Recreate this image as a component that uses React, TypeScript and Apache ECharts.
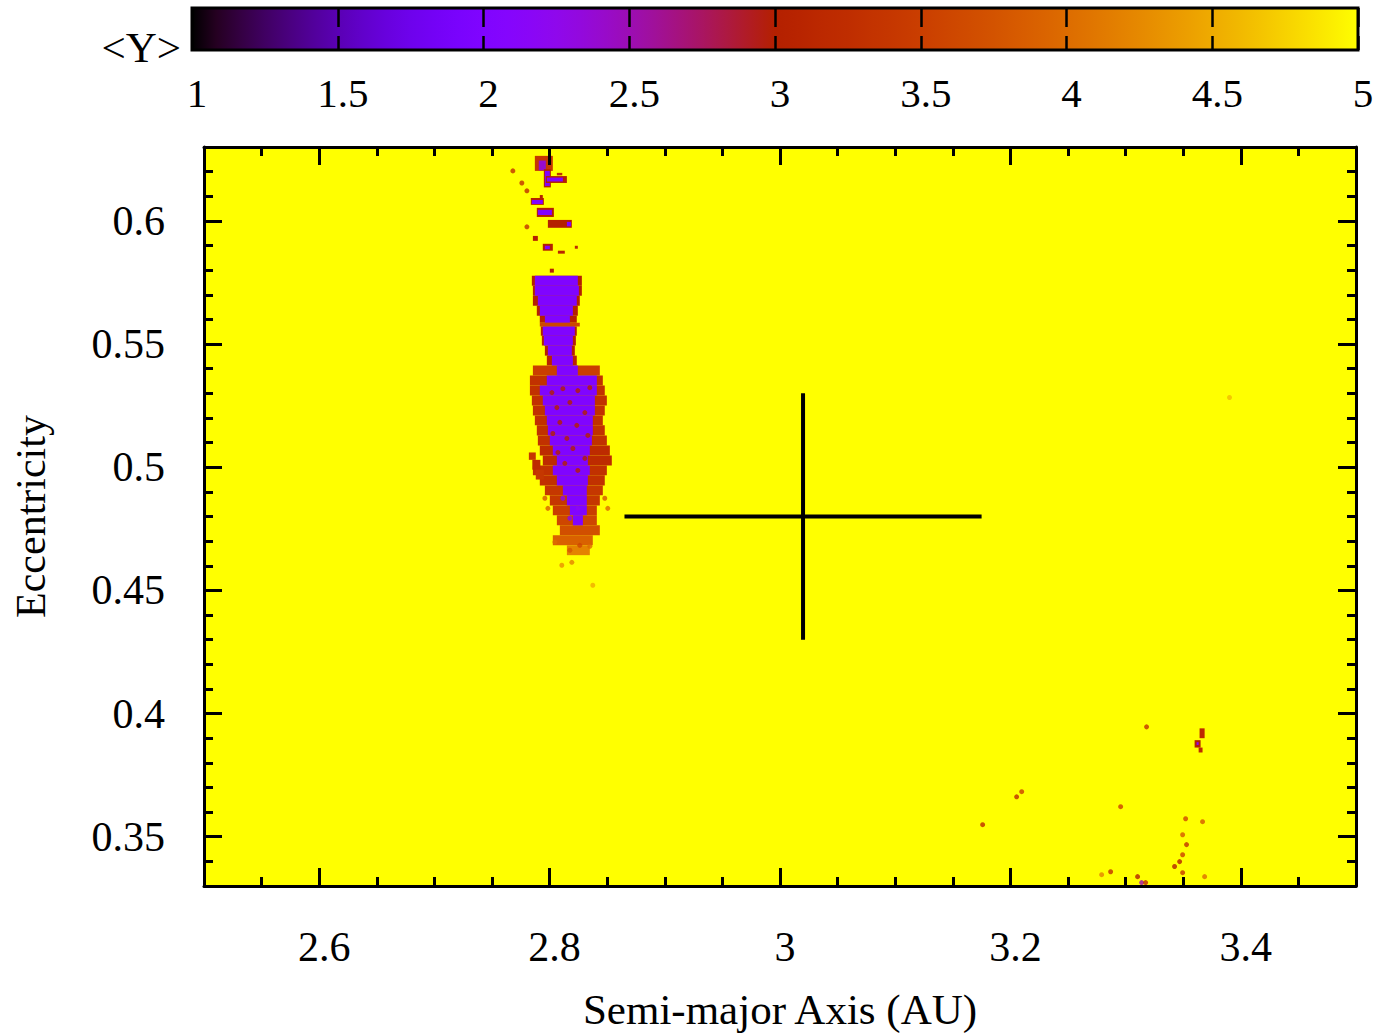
import React, { useEffect, useRef } from 'react';
import * as echarts from 'echarts';

// ---- axis ranges & ticks ----
const X_MIN = 2.5;
const X_MAX = 3.5;
const Y_MIN = 0.33;
const Y_MAX = 0.63;
const xMajorTicks = [2.6, 2.8, 3.0, 3.2, 3.4];
const yMajorTicks = [0.35, 0.4, 0.45, 0.5, 0.55, 0.6];
const xMinorStep = 0.05;
const yMinorStep = 0.01;
const cbMin = 1;
const cbMax = 5;
const cbStep = 0.5;

// ---- map values ----
const backgroundValue = 5; // regular (yellow) everywhere
const coreValue = 2.0; // chaotic core of the resonance zone

// main chaotic body, horizontal slices:
// [eLow, eHigh, fringeLeft, fringeRight, fringeValue, coreLeft, coreRight]
const bodySlices: (number | null)[][] = [
  [0.5737, 0.5777, 2.7846, 2.8280, 3.0, 2.7872, 2.8245],
  [0.5696, 0.5737, 2.7855, 2.8280, 3.0, 2.7872, 2.8254],
  [0.5656, 0.5696, 2.7855, 2.8262, 3.0, 2.7898, 2.8236],
  [0.5615, 0.5656, 2.7889, 2.8245, 3.0, 2.7915, 2.8202],
  [0.5587, 0.5615, 2.7915, 2.8236, 3.0, 2.7959, 2.8176],
  [0.5571, 0.5587, 2.7915, 2.8262, 3.6, null, null],
  [0.5534, 0.5571, 2.7924, 2.8236, 3.0, 2.7941, 2.8219],
  [0.5494, 0.5534, 2.7933, 2.8228, 3.0, 2.7950, 2.8202],
  [0.5453, 0.5494, 2.7959, 2.8219, 3.0, 2.7985, 2.8193],
  [0.5413, 0.5453, 2.7976, 2.8236, 3.1, 2.8020, 2.8202],
  [0.5372, 0.5413, 2.7855, 2.8436, 3.5, 2.8063, 2.8245],
  [0.5332, 0.5372, 2.7829, 2.8462, 3.3, 2.7976, 2.8410],
  [0.5291, 0.5332, 2.7829, 2.8479, 3.3, 2.7915, 2.8410],
  [0.5251, 0.5291, 2.7846, 2.8497, 3.3, 2.7941, 2.8393],
  [0.5210, 0.5251, 2.7855, 2.8479, 3.3, 2.7959, 2.8393],
  [0.5170, 0.5210, 2.7872, 2.8462, 3.3, 2.7976, 2.8375],
  [0.5129, 0.5170, 2.7889, 2.8479, 3.3, 2.7985, 2.8375],
  [0.5088, 0.5129, 2.7898, 2.8497, 3.3, 2.8002, 2.8367],
  [0.5048, 0.5088, 2.7915, 2.8523, 3.2, 2.8028, 2.8349],
  [0.5007, 0.5048, 2.7941, 2.8540, 3.2, 2.8063, 2.8332],
  [0.4967, 0.5007, 2.7855, 2.8497, 3.3, 2.8028, 2.8349],
  [0.4926, 0.4967, 2.7915, 2.8479, 3.3, 2.8063, 2.8332],
  [0.4886, 0.4926, 2.7959, 2.8462, 3.4, 2.8115, 2.8323],
  [0.4845, 0.4886, 2.8002, 2.8436, 3.4, 2.8150, 2.8323],
  [0.4805, 0.4845, 2.8028, 2.8410, 3.5, 2.8176, 2.8323],
  [0.4764, 0.4805, 2.8063, 2.8410, 3.6, 2.8202, 2.8289],
  [0.4724, 0.4764, 2.8089, 2.8436, 3.7, null, null],
  [0.4683, 0.4724, 2.8028, 2.8375, 3.9, null, null],
  [0.4643, 0.4683, 2.8150, 2.8349, 4.2, null, null],
];

// isolated chaotic patches: [aMin, aMax, eMin, eMax, value]
const patchCells: number[][] = [
  [2.7872, 2.8028, 0.6203, 0.6264, 3.4],
  [2.7906, 2.7967, 0.6205, 0.6245, 2.4],
  [2.7950, 2.8011, 0.6136, 0.6210, 3.0],
  [2.7959, 2.8002, 0.6142, 0.6203, 2.0],
  [2.7967, 2.8150, 0.6154, 0.6182, 3.0],
  [2.7976, 2.8115, 0.6160, 0.6176, 2.0],
  [2.8063, 2.8110, 0.6185, 0.6195, 3.3],
  [2.7837, 2.7950, 0.6065, 0.6093, 3.0],
  [2.7846, 2.7941, 0.6069, 0.6085, 2.0],
  [2.7915, 2.7941, 0.6085, 0.6105, 3.0],
  [2.7889, 2.8037, 0.6016, 0.6053, 3.0],
  [2.7898, 2.8020, 0.6024, 0.6045, 2.0],
  [2.7985, 2.8193, 0.5972, 0.6004, 3.0],
  [2.8150, 2.8185, 0.5978, 0.5996, 2.0],
  [2.7855, 2.7898, 0.5919, 0.5939, 3.0],
  [2.7941, 2.8028, 0.5879, 0.5907, 3.0],
  [2.7959, 2.8002, 0.5885, 0.5899, 2.1],
  [2.8072, 2.8132, 0.5867, 0.5879, 3.1],
  [2.8219, 2.8245, 0.5887, 0.5899, 3.2],
  [2.8002, 2.8037, 0.5790, 0.5806, 3.0],
  [2.7820, 2.7880, 0.5030, 0.5060, 3.4],
  [2.7850, 2.7920, 0.4990, 0.5030, 3.2],
  [2.7880, 2.7950, 0.4950, 0.4990, 3.4],
  [3.3642, 3.3686, 0.3900, 0.3940, 3.2],
  [3.3599, 3.3651, 0.3862, 0.3892, 3.0],
  [3.3616, 3.3634, 0.3872, 0.3884, 2.2],
  [3.3634, 3.3668, 0.3842, 0.3862, 3.2],
];

// single chaotic orbits (speckles): [a, e, value]
const speckles: number[][] = [
  [2.7681, 0.6203, 3.3], [2.7759, 0.6154, 3.3], [2.7803, 0.6122, 3.2], [2.7803, 0.5976, 3.3],
  [2.8020, 0.5303, 3.0], [2.8115, 0.5319, 3.0], [2.8245, 0.5311, 3.0], [2.8349, 0.5323, 3.0],
  [2.8063, 0.5242, 3.0], [2.8176, 0.5263, 3.0], [2.8306, 0.5222, 3.0], [2.8089, 0.5182, 3.0],
  [2.8236, 0.5170, 3.0], [2.8028, 0.5137, 3.0], [2.8150, 0.5117, 3.0], [2.8332, 0.5129, 3.0],
  [2.8072, 0.5060, 3.0], [2.8202, 0.5076, 3.0], [2.8306, 0.5036, 3.0], [2.8132, 0.5016, 3.0],
  [2.8245, 0.4987, 3.0],
  [2.8115, 0.4874, 2.2], [2.8245, 0.4833, 2.2], [2.8176, 0.4793, 2.2],
  [2.8046, 0.4696, 4.0], [2.8176, 0.4663, 3.8], [2.8262, 0.4683, 3.6], [2.8349, 0.4679, 4.0],
  [2.8193, 0.4614, 4.2], [2.8106, 0.4602, 4.3], [2.7959, 0.4874, 3.8], [2.7985, 0.4833, 3.9],
  [2.8505, 0.4833, 4.0], [2.8479, 0.4874, 3.8],
  [2.8375, 0.4521, 4.5], [3.3902, 0.5283, 4.6],
  [3.3182, 0.3946, 3.3], [3.2054, 0.3662, 3.2], [3.2098, 0.3683, 3.5], [3.1759, 0.3549, 3.2],
  [3.2957, 0.3622, 3.5], [3.3668, 0.3561, 3.8], [3.3521, 0.3573, 3.6], [3.3495, 0.3508, 3.8],
  [3.3529, 0.3468, 3.3], [3.3495, 0.3427, 3.5], [3.3469, 0.3399, 3.0], [3.3425, 0.3379, 3.0],
  [3.3495, 0.3354, 3.4], [3.3686, 0.3338, 4.0], [3.2870, 0.3358, 3.3], [3.2792, 0.3346, 4.2],
  [3.3104, 0.3338, 3.0], [3.3139, 0.3314, 2.5], [3.3174, 0.3314, 3.2],
];

// nominal orbit with uncertainties
const crossCenter = [3.02, 0.48];
const crossErrA = 0.155;
const crossErrE = 0.05;

// gnuplot "rgbformulae 7,5,15" palette
function paletteColor(v: number): string {
  const x = Math.min(1, Math.max(0, (v - cbMin) / (cbMax - cbMin)));
  const r = Math.sqrt(x);
  const g = x * x * x;
  const b = Math.max(0, Math.sin(2 * Math.PI * x));
  const h = (c: number) => Math.round(c * 255);
  return `rgb(${h(r)},${h(g)},${h(b)})`;
}
const paletteSamples = 48;
const paletteColors: string[] = [];
for (let i = 0; i <= paletteSamples; i++) {
  paletteColors.push(paletteColor(cbMin + ((cbMax - cbMin) * i) / paletteSamples));
}

function makeTicks(min: number, max: number, step: number): number[] {
  const out: number[] = [];
  const n = Math.round((max - min) / step);
  for (let i = 0; i <= n; i++) out.push(+(min + i * step).toFixed(4));
  return out;
}

const FONT = 'Liberation Serif';

export default function App() {
  const ref = useRef<HTMLDivElement>(null);
  useEffect(() => {
    if (!ref.current) return;
    const chart = echarts.init(ref.current, undefined, { renderer: 'svg' });

    const cells: number[][] = [[X_MIN, X_MAX, Y_MIN, Y_MAX, backgroundValue]];
    bodySlices.forEach((s) => cells.push([s[2] as number, s[3] as number, s[0] as number, s[1] as number, s[4] as number]));
    bodySlices.forEach((s) => {
      if (s[5] != null) cells.push([s[5] as number, s[6] as number, s[0] as number, s[1] as number, coreValue]);
    });
    patchCells.forEach((c) => cells.push(c));

    const xMinor = makeTicks(X_MIN, X_MAX, xMinorStep);
    const yMinor = makeTicks(Y_MIN, Y_MAX, yMinorStep);

    const axisLineStyle = { color: '#000', width: 3 };
    const labelStyle = { color: '#000', fontSize: 42, fontFamily: FONT };

    const majorX = (position: string, labels: boolean, extra: any = {}) => ({
      type: 'value', gridIndex: 0, min: X_MIN, max: X_MAX, position, z: 5,
      axisLine: { show: true, onZero: false, lineStyle: axisLineStyle },
      axisTick: { show: true, inside: true, length: 18, customValues: xMajorTicks, lineStyle: { color: '#000', width: 3 } },
      axisLabel: labels
        ? { show: true, customValues: xMajorTicks, margin: 40, padding: [0, 0, 0, 10], ...labelStyle }
        : { show: false },
      splitLine: { show: false },
      ...extra,
    });
    const minorX = (position: string) => ({
      type: 'value', gridIndex: 0, min: X_MIN, max: X_MAX, position, z: 5,
      axisLine: { show: false },
      axisTick: { show: true, inside: true, length: 9, customValues: xMinor, lineStyle: { color: '#000', width: 3 } },
      axisLabel: { show: false },
      splitLine: { show: false },
    });
    const majorY = (position: string, labels: boolean, extra: any = {}) => ({
      type: 'value', gridIndex: 0, min: Y_MIN, max: Y_MAX, position, z: 5,
      axisLine: { show: true, onZero: false, lineStyle: axisLineStyle },
      axisTick: { show: true, inside: true, length: 18, customValues: yMajorTicks, lineStyle: { color: '#000', width: 3 } },
      axisLabel: labels ? { show: true, customValues: yMajorTicks, margin: 39, ...labelStyle } : { show: false },
      splitLine: { show: false },
      ...extra,
    });
    const minorY = (position: string) => ({
      type: 'value', gridIndex: 0, min: Y_MIN, max: Y_MAX, position, z: 5,
      axisLine: { show: false },
      axisTick: { show: true, inside: true, length: 9, customValues: yMinor, lineStyle: { color: '#000', width: 3 } },
      axisLabel: { show: false },
      splitLine: { show: false },
    });

    const cbStops = paletteColors.map((c, i) => ({ offset: i / paletteSamples, color: c }));

    const option: any = {
      animation: false,
      backgroundColor: '#fff',
      grid: [
        { left: 204, top: 147, width: 1152, height: 739, outerBoundsMode: 'none', containLabel: false },
        { left: 192, top: 8, width: 1166, height: 42, outerBoundsMode: 'none', containLabel: false },
      ],
      xAxis: [
        majorX('bottom', true, {
          name: 'Semi-major Axis (AU)', nameLocation: 'middle', nameGap: 102, nameMoveOverlap: false,
          nameTextStyle: { color: '#000', fontSize: 43, fontFamily: FONT },
        }),
        minorX('bottom'),
        majorX('top', false),
        minorX('top'),
        {
          type: 'value', gridIndex: 1, min: cbMin, max: cbMax, interval: cbStep, position: 'bottom', z: 3,
          axisLine: { show: false }, axisTick: { show: false },
          axisLabel: { show: true, margin: 22, padding: [0, 0, 0, 10], color: '#000', fontSize: 41, fontFamily: FONT },
          splitLine: { show: true, lineStyle: { color: '#000', width: 2.5, type: [19, 9] } },
        },
      ],
      yAxis: [
        majorY('left', true, {
          name: 'Eccentricity', nameLocation: 'middle', nameGap: 152, nameMoveOverlap: false,
          nameTextStyle: { color: '#000', fontSize: 42, fontFamily: FONT },
        }),
        minorY('left'),
        majorY('right', false),
        minorY('right'),
        { type: 'value', gridIndex: 1, min: 0, max: 1, show: false },
      ],
      visualMap: [
        { type: 'continuous', show: false, min: cbMin, max: cbMax, dimension: 4, seriesIndex: 0, inRange: { color: paletteColors } },
        { type: 'continuous', show: false, min: cbMin, max: cbMax, dimension: 2, seriesIndex: 1, inRange: { color: paletteColors } },
      ],
      graphic: [
        {
          type: 'text', x: 181, y: 47, z: 10,
          style: { text: '<Y>', fontSize: 43, fontFamily: FONT, fill: '#000', align: 'right', verticalAlign: 'middle' },
        },
      ],
      series: [
        {
          type: 'custom', xAxisIndex: 0, yAxisIndex: 0, clip: true, z: 1,
          encode: { x: [0, 1], y: [2, 3] },
          data: cells,
          renderItem: (params: any, api: any) => {
            const p0 = api.coord([api.value(0), api.value(3)]);
            const p1 = api.coord([api.value(1), api.value(2)]);
            return {
              type: 'rect',
              shape: { x: p0[0], y: p0[1], width: p1[0] - p0[0], height: p1[1] - p0[1] },
              style: { fill: api.visual('color') },
            };
          },
        },
        {
          type: 'scatter', xAxisIndex: 0, yAxisIndex: 0, symbol: 'circle', symbolSize: 5, z: 2,
          data: speckles,
        },
        {
          type: 'line', xAxisIndex: 0, yAxisIndex: 0, symbol: 'none', z: 4,
          lineStyle: { color: '#000', width: 4 },
          data: [[crossCenter[0] - crossErrA, crossCenter[1]], [crossCenter[0] + crossErrA, crossCenter[1]]],
        },
        {
          type: 'line', xAxisIndex: 0, yAxisIndex: 0, symbol: 'none', z: 4,
          lineStyle: { color: '#000', width: 4 },
          data: [[crossCenter[0], crossCenter[1] - crossErrE], [crossCenter[0], crossCenter[1] + crossErrE]],
        },
        {
          type: 'custom', xAxisIndex: 4, yAxisIndex: 4, z: 1,
          data: [[cbMin, cbMax]],
          renderItem: (params: any, api: any) => {
            const p0 = api.coord([api.value(0), 1]);
            const p1 = api.coord([api.value(1), 0]);
            return {
              type: 'rect',
              shape: { x: p0[0], y: p0[1], width: p1[0] - p0[0], height: p1[1] - p0[1] },
              style: {
                fill: new echarts.graphic.LinearGradient(0, 0, 1, 0, cbStops),
                stroke: '#000',
                lineWidth: 3,
              },
            };
          },
        },
      ],
    };
    chart.setOption(option);
    return () => chart.dispose();
  }, []);
  return <div ref={ref} style={{ position: 'fixed', left: 0, top: 0, width: 1396, height: 1036 }} />;
}
